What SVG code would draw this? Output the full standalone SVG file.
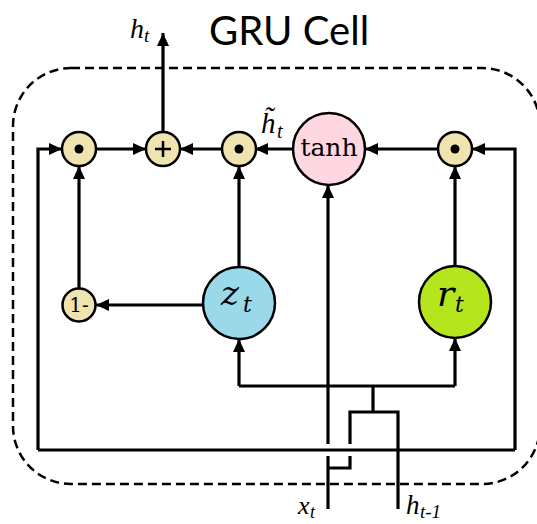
<svg xmlns="http://www.w3.org/2000/svg" width="537" height="524" viewBox="0 0 537 524">
<defs>
<style>
.ln{fill:none;stroke:#000;stroke-width:3.2;stroke-linejoin:miter}
.ar{marker-end:url(#ah)}
.op{fill:#EFE4B0;stroke:#000;stroke-width:2.5}
.big{stroke:#000;stroke-width:2.5}
.m{font-family:"Liberation Serif",serif;font-style:italic;fill:#000}
.d{font-family:"DejaVu Serif",serif;fill:#000}
</style>
<marker id="ah" markerUnits="userSpaceOnUse" markerWidth="14" markerHeight="12" refX="13" refY="6" orient="auto">
<path d="M0,0 L13,6 L0,12 z" fill="#000"/>
</marker>
</defs>
<rect x="13" y="68" width="527" height="416" rx="58" ry="58" fill="none" stroke="#000" stroke-width="2.5" stroke-dasharray="9 5"/>
<text x="209" y="45" font-family="Lato,sans-serif" font-size="40" fill="#000">GRU Cell</text>
<g id="connectors">
<path class="ln" d="M38,450 H515"/>
<path class="ln ar" d="M38,450 V149 H62"/>
<path class="ln ar" d="M515,450 V149 H472"/>
<path class="ln ar" d="M96,149 H146"/>
<path class="ln ar" d="M222,149 H180"/>
<path class="ln ar" d="M293,149 H255"/>
<path class="ln ar" d="M438,149 H365"/>
<path class="ln ar" d="M163,132 V33"/>
<path class="ln ar" d="M79,289 V166"/>
<path class="ln ar" d="M203,305 H96"/>
<path class="ln ar" d="M239,267 V166"/>
<path class="ln ar" d="M455,266 V166"/>
<path class="ln" d="M239,386 H455"/>
<path class="ln ar" d="M239,386 V339"/>
<path class="ln ar" d="M455,386 V338"/>
<path class="ln" d="M373,386 V412"/>
<path class="ln" d="M350,444 V412 H398 V509"/>
<path class="ln" d="M328,509 V456"/>
<path class="ln ar" d="M328,444 V185"/>
<path class="ln" d="M328,468 H350 V456"/>
</g>
<g id="mul1"><circle class="op" cx="79" cy="149" r="17"/><circle cx="79" cy="149" r="4.5"/></g>
<g id="add"><circle class="op" cx="163" cy="149" r="17"/><path d="M155,149 H171 M163,141 V157" stroke="#000" stroke-width="2.5"/></g>
<g id="mul2"><circle class="op" cx="239" cy="149" r="17"/><circle cx="239" cy="149" r="4.5"/></g>
<g id="tanh"><circle class="big" cx="329" cy="149" r="36" fill="#FFD7E1"/><text class="d" x="329" y="156" font-size="25" text-anchor="middle">tanh</text></g>
<g id="mul3"><circle class="op" cx="455" cy="149" r="17"/><circle cx="455" cy="149" r="4.5"/></g>
<g id="oneminus"><circle class="op" cx="79" cy="305" r="16.5"/><text class="d" x="79" y="312" font-size="20" text-anchor="middle">1-</text></g>
<g id="zt"><circle class="big" cx="239" cy="303" r="36" fill="#99D9EA"/><text class="d" x="221" y="305" font-size="34" font-style="italic">z</text><text class="d" x="243" y="312" font-size="22" font-style="italic">t</text></g>
<g id="rt"><circle class="big" cx="455" cy="302" r="36" fill="#B5E61D"/><text class="d" x="437" y="306" font-size="36" font-style="italic">r</text><text class="d" x="455" y="312" font-size="22" font-style="italic">t</text></g>
<g id="labels">
<text class="m" x="130" y="38" font-size="28">h</text><text class="m" x="144" y="42" font-size="19">t</text>
<text class="m" x="261" y="133" font-size="29">h̃</text><text class="m" x="277" y="138" font-size="20">t</text>
<text class="m" x="298" y="514" font-size="26">x</text><text class="m" x="310" y="518" font-size="18">t</text>
<text class="m" x="406" y="514" font-size="27">h</text><text class="m" x="420" y="518" font-size="19">t-1</text>
</g>
</svg>
